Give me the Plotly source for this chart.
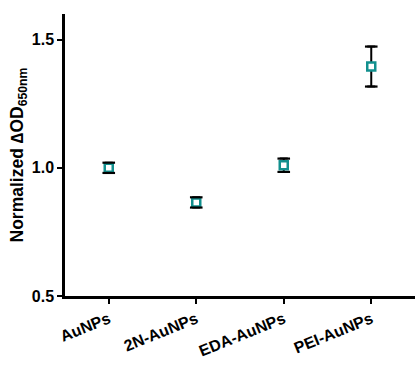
import plotly.graph_objects as go

categories = ["AuNPs", "2N-AuNPs", "EDA-AuNPs", "PEI-AuNPs"]
values = [1.0, 0.865, 1.01, 1.395]
errors = [0.02, 0.02, 0.026, 0.078]

teal = "#12908e"
font_family = "Arial, Liberation Sans, sans-serif"
xpos = list(range(len(categories)))

fig = go.Figure()
# mean markers with SD error bars (stems drawn beneath the marker)
fig.add_trace(go.Scatter(
    x=xpos, y=values, mode="markers",
    marker=dict(symbol="square", size=8, color="white",
                line=dict(color=teal, width=2.5)),
    error_y=dict(type="data", array=errors, visible=True,
                 color="black", thickness=2, width=4),
    showlegend=False, hoverinfo="skip",
))
# error-bar caps redrawn on top of the markers
cap_x = xpos + xpos
cap_y = [v + e for v, e in zip(values, errors)] + [v - e for v, e in zip(values, errors)]
fig.add_trace(go.Scatter(
    x=cap_x, y=cap_y, mode="markers",
    marker=dict(symbol="line-ew", size=9, line=dict(color="black", width=2.2)),
    showlegend=False, hoverinfo="skip",
))

fig.update_layout(
    width=415, height=377,
    margin=dict(l=65, r=0, t=14, b=81),
    paper_bgcolor="white", plot_bgcolor="white",
    font=dict(family=font_family, color="black"),
    xaxis=dict(
        range=[-0.5, 3.5],
        tickmode="array",
        tickvals=xpos,
        ticktext=[f"<b>{c}</b>" for c in categories],
        tickangle=-22,
        tickfont=dict(size=16),
        showline=True, linecolor="black", linewidth=2.5,
        ticks="outside", ticklen=5, tickwidth=1.5, tickcolor="black",
        showgrid=False, zeroline=False,
    ),
    yaxis=dict(
        range=[0.5, 1.6],
        tickvals=[0.5, 1.0, 1.5],
        ticktext=["<b>0.5</b>", "<b>1.0</b>", "<b>1.5</b>"],
        tickfont=dict(size=16),
        showline=True, linecolor="black", linewidth=2.5,
        ticks="outside", ticklen=5, tickwidth=1.5, tickcolor="black",
        showgrid=False, zeroline=False,
        title=dict(text="<b>Normalized ∆OD<sub>650nm</sub></b>",
                   font=dict(size=17.5), standoff=4),
    ),
)

fig.write_html("out.html")
